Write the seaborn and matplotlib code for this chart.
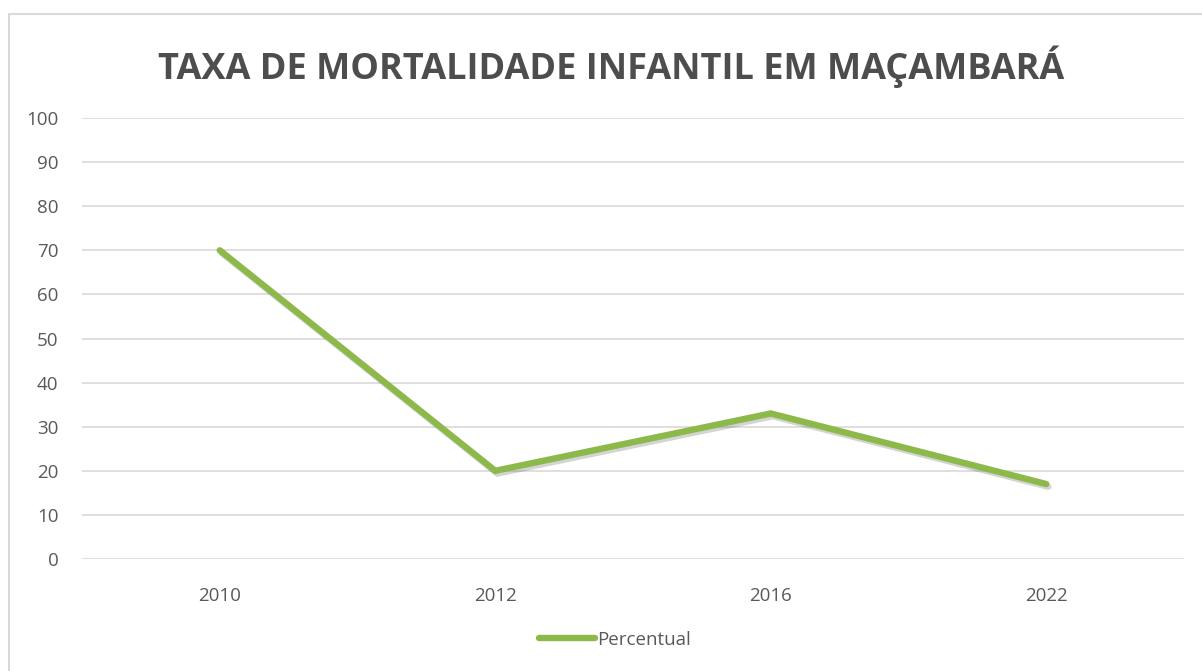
import matplotlib
matplotlib.use("Agg")
import matplotlib.pyplot as plt
import matplotlib.patheffects as pe
from matplotlib.patches import Rectangle
from matplotlib.lines import Line2D
import seaborn as sns
import pandas as pd

years = ["2010", "2012", "2016", "2022"]
percentual = [70, 20, 33, 17]
series_name = "Percentual"
title = "TAXA DE MORTALIDADE INFANTIL EM MAÇAMBARÁ"

df = pd.DataFrame({"Ano": years, "Valor": percentual, "Série": series_name})

sns.set_theme(style="white")
plt.rcParams['font.family'] = ['Open Sans', 'DejaVu Sans']

W, H = 1202, 671
fig = plt.figure(figsize=(W / 100, H / 100), dpi=100)
fig.patch.set_facecolor("white")
ax = fig.add_axes([82 / W, 1 - 559 / H, (1184 - 82) / W, (559 - 118) / H])

line_color = "#8DB84A"
sns.lineplot(data=df, x="Ano", y="Valor", hue="Série", palette=[line_color],
             linewidth=4.6, ax=ax, sort=False, legend=False)
for ln in ax.lines:
    ln.set_solid_capstyle("round")
    ln.set_solid_joinstyle("miter")
    ln.set_path_effects([pe.SimpleLineShadow(offset=(1.5, -2), alpha=0.25, shadow_color="#555555"),
                         pe.Normal()])

ax.set_ylim(0, 100)
ax.set_xlim(-0.5, 3.5)
ax.set_yticks(range(0, 101, 10))
ax.yaxis.grid(True, color="#d9d9d9", linewidth=1.2)
ax.xaxis.grid(False)
ax.set_axisbelow(True)
for s in ax.spines.values():
    s.set_visible(False)
ax.tick_params(axis="both", length=0, labelsize=13.5, colors="#595959")
ax.tick_params(axis="y", pad=17)
ax.tick_params(axis="x", pad=20)
ax.set_xlabel("")
ax.set_ylabel("")

fig.text(611 / W, 1 - 67 / H, title, ha="center", va="center",
         fontsize=26, fontweight="bold", color="#4d4d4d")

handle = Line2D([], [], color=line_color, linewidth=4.6, solid_capstyle="round")
fig.legend([handle], [series_name], loc="center", bbox_to_anchor=(615 / W, 1 - 640 / H),
           frameon=False, fontsize=13.5, handlelength=3.0, handletextpad=0.1,
           labelcolor="#595959")

fig.patches.append(Rectangle((9 / W, -0.05), 1.2, 1 - 14 / H + 0.05, transform=fig.transFigure,
                             fill=False, edgecolor="#d9d9d9", linewidth=1.5))

fig.savefig("out.png", dpi=100)
